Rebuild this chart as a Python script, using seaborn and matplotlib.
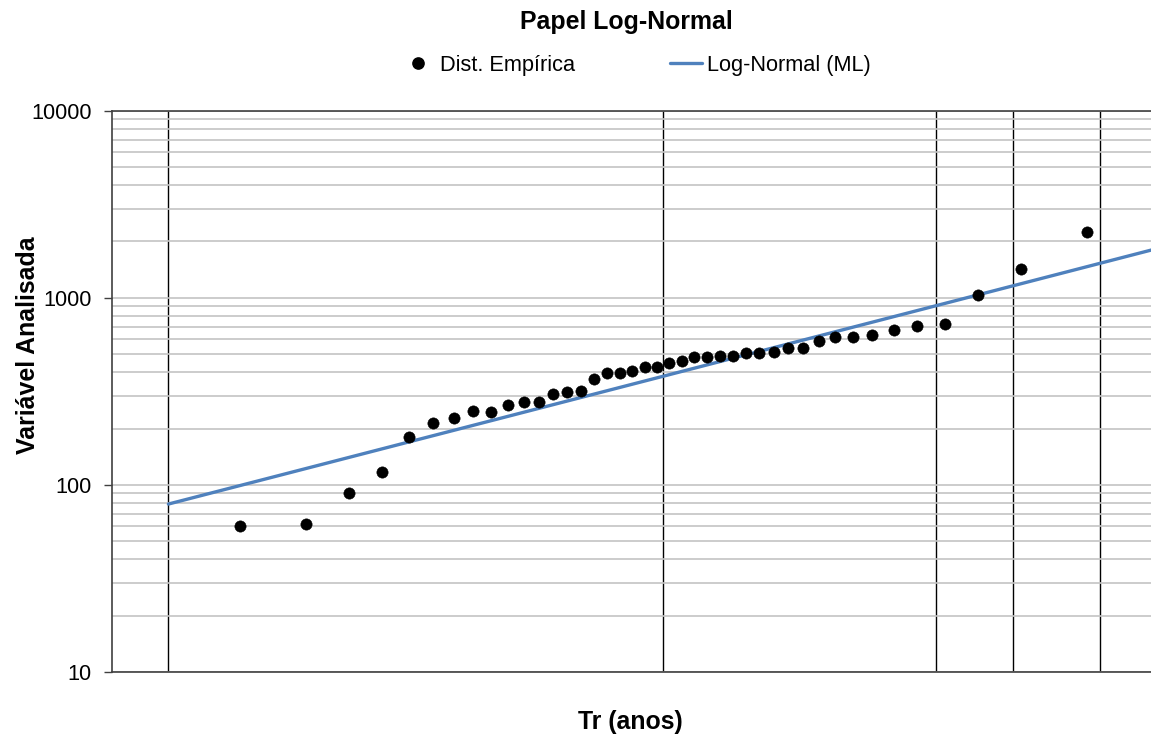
import matplotlib
matplotlib.use("Agg")
import matplotlib.pyplot as plt
from matplotlib.lines import Line2D
from matplotlib.ticker import FixedLocator, NullFormatter, FuncFormatter
import seaborn as sns
import pandas as pd

# ---- data ----
# standard normal variate (plotting position) of each ranked observation
plot_z = [-1.990, -1.680, -1.477, -1.323, -1.194, -1.082, -0.983, -0.893, -0.809, -0.731,
          -0.657, -0.586, -0.518, -0.452, -0.389, -0.327, -0.266, -0.205, -0.146, -0.087,
          -0.029, 0.029, 0.087, 0.146, 0.205, 0.266, 0.327, 0.389, 0.452, 0.518,
          0.586, 0.657, 0.731, 0.809, 0.893, 0.983, 1.082, 1.194, 1.323, 1.477,
          1.680, 1.990]
empirical = [60, 62, 91, 117, 181, 215, 229, 248, 246, 267,
             278, 277, 306, 312, 317, 368, 397, 397, 407, 428,
             428, 446, 459, 480, 480, 490, 490, 505, 508, 514,
             536, 536, 587, 619, 618, 632, 672, 706, 723, 1033,
             1418, 2238]

# fitted Log-Normal (ML) line
fit_z = [-2.326, 0.0, 2.326]
fit_values = [79, 381, 1840]

# vertical reference lines (return periods on normal-probability axis)
tr_lines_z = [-2.326, 0.0, 1.282, 1.645, 2.054]

y_major = [10, 100, 1000, 10000]
y_minor = [m * d for d in (10, 100, 1000) for m in range(2, 10)]

title = "Papel Log-Normal"
xlabel = "Tr (anos)"
ylabel = "Variável Analisada"
legend_labels = ["Dist. Empírica", "Log-Normal (ML)"]

# ---- style ----
sns.set_theme(style="white")
plt.rcParams['font.family'] = ['Liberation Sans', 'DejaVu Sans']

W, H = 1151, 738
fig = plt.figure(figsize=(W / 100, H / 100), dpi=100)
ax_left, ax_right, ax_top, ax_bottom = 112, 1151, 110.7, 672
ax = fig.add_axes([ax_left / W, 1 - ax_bottom / H, (ax_right - ax_left) / W, (ax_bottom - ax_top) / H])

df_emp = pd.DataFrame({'z': plot_z, 'v': empirical})
df_fit = pd.DataFrame({'z': fit_z, 'v': fit_values})

line_color = '#4F81BD'
sns.lineplot(data=df_fit, x='z', y='v', ax=ax, color=line_color, lw=2.4, zorder=3,
             legend=False, sort=False)
sns.scatterplot(data=df_emp, x='z', y='v', ax=ax, color='black', s=66,
                edgecolor='black', linewidth=0.4, zorder=4, legend=False)

ax.set_yscale('log')
ax.set_ylim(10, 10000)
ax.set_xlim(-2.591, 2.292)

# y grid & ticks
ax.yaxis.set_major_locator(FixedLocator(y_major))
ax.yaxis.set_minor_locator(FixedLocator(y_minor))
ax.yaxis.set_major_formatter(FuncFormatter(lambda v, p: f"{int(round(v))}"))
ax.yaxis.set_minor_formatter(NullFormatter())
ax.grid(False)
ax.yaxis.grid(True, which='both', color='#C4C4C4', lw=1.2)
ax.tick_params(axis='y', which='major', left=True, length=5.5, width=1.0,
               color='#404040', pad=9, labelsize=15.7, labelcolor='black', direction='out')
ax.tick_params(axis='y', which='minor', left=False, length=0)

# x grid: vertical black lines
ax.set_xticks(tr_lines_z)
ax.xaxis.grid(True, which='major', color='black', lw=1.0)
ax.tick_params(axis='x', which='both', bottom=False, length=0, labelbottom=False)
ax.set_axisbelow(True)

for s in ('left', 'bottom', 'top'):
    ax.spines[s].set_visible(True)
    ax.spines[s].set_color('#404040')
    ax.spines[s].set_linewidth(1.2)
ax.spines['right'].set_visible(False)

ax.set_ylabel(ylabel, fontsize=17.9, fontweight='bold', color='black')
ax.yaxis.set_label_coords(-0.069, 0.582)
ax.set_xlabel(xlabel, fontsize=17.9, fontweight='bold', color='black')
ax.xaxis.set_label_coords((630 - ax_left) / (ax_right - ax_left), -0.0677)

fig.text(626 / W, 1 - 22 / H, title, ha='center', va='center',
         fontsize=17.9, fontweight='bold', color='black')

handles = [Line2D([], [], marker='o', ls='none', color='black', markersize=8.1),
           Line2D([], [], color=line_color, lw=2.4)]
fig.legend(handles, legend_labels, loc='center', bbox_to_anchor=(636.5 / W, 1 - 65 / H),
           ncol=2, frameon=False, fontsize=15.7, handlelength=1.47, handletextpad=0.23,
           columnspacing=4.36, borderaxespad=0, borderpad=0, labelcolor='black')

fig.savefig('out.png', dpi=100)
